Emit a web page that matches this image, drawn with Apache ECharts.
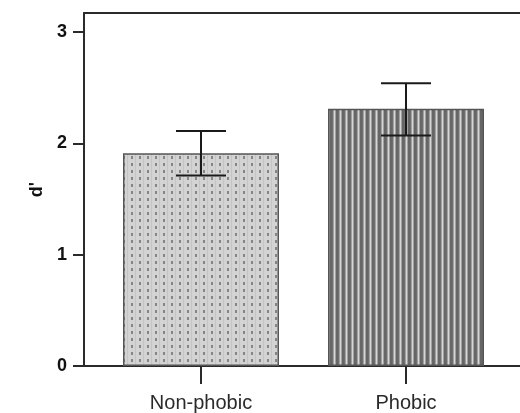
<!DOCTYPE html>
<html>
<head>
<meta charset="utf-8">
<script src="https://cdn.jsdelivr.net/npm/echarts@6/dist/echarts.min.js"></script>
<style>
html,body{margin:0;padding:0;background:#fff;}
#c{width:520px;height:413px;}
</style>
</head>
<body>
<div id="c"></div>
<script>
var categories = ['Non-phobic', 'Phobic'];
var means = [1.91, 2.31];
var errLow = [1.71, 2.07];
var errHigh = [2.11, 2.54];
var yTicks = [0, 1, 2, 3];
var yMax = 3.17;

function dotPattern() {
  var c = document.createElement('canvas');
  c.width = 8; c.height = 7;
  var g = c.getContext('2d');
  g.fillStyle = '#d3d3d3'; g.fillRect(0, 0, 8, 7);
  g.fillStyle = '#c4c4c4'; g.fillRect(7, 0, 1, 7);
  g.fillStyle = '#858585'; g.fillRect(3, 2, 2, 3);
  return c;
}
function stripePattern() {
  var c = document.createElement('canvas');
  c.width = 6; c.height = 6;
  var g = c.getContext('2d');
  var cols = ['#666666', '#666666', '#6e6e6e', '#a0a0a0', '#d6d6d6', '#a0a0a0'];
  for (var i = 0; i < 6; i++) { g.fillStyle = cols[i]; g.fillRect(i, 0, 1, 6); }
  return c;
}
var fills = [
  { image: dotPattern(), repeat: 'repeat' },
  { image: stripePattern(), repeat: 'repeat' }
];

var chart = echarts.init(document.getElementById('c'));
var axisColor = '#2a2a2a';
var font = 'Liberation Sans, Arial, sans-serif';
chart.setOption({
  animation: false,
  backgroundColor: '#fff',
  grid: [
    { left: 84, right: 0, top: 13, bottom: 47 },
    { left: 98.5, right: 11.5, top: 13, bottom: 47 }
  ],
  xAxis: [
    { type: 'value', gridIndex: 0, position: 'bottom', min: 0, max: 1,
      axisLine: { show: true, lineStyle: { color: axisColor, width: 2 } },
      axisTick: { show: false }, axisLabel: { show: false }, splitLine: { show: false } },
    { type: 'value', gridIndex: 0, position: 'top', min: 0, max: 1,
      axisLine: { show: true, lineStyle: { color: axisColor, width: 2 } },
      axisTick: { show: false }, axisLabel: { show: false }, splitLine: { show: false } },
    {
      type: 'category', gridIndex: 1, data: categories,
      axisLine: { show: false },
      axisTick: { show: true, alignWithLabel: true, length: 18, lineStyle: { color: axisColor, width: 2 } },
      axisLabel: { margin: 27, color: '#2a2a2a', fontSize: 20, fontFamily: font }
    }
  ],
  yAxis: [
    {
      type: 'value', gridIndex: 0, min: 0, max: yMax,
      name: "d'", nameLocation: 'middle', nameGap: 30,
      nameTextStyle: { fontSize: 18, fontWeight: 'bold', color: '#111', fontFamily: font },
      axisLine: { show: true, lineStyle: { color: axisColor, width: 2 } },
      axisTick: { show: true, length: 11, customValues: yTicks, lineStyle: { color: axisColor, width: 2 } },
      axisLabel: { customValues: yTicks, margin: 17, color: '#111', fontSize: 18, fontWeight: 'bold', fontFamily: font },
      splitLine: { show: false }
    },
    { type: 'value', gridIndex: 1, min: 0, max: yMax, show: false, splitLine: { show: false } }
  ],
  series: [
    {
      type: 'bar', xAxisIndex: 2, yAxisIndex: 1, barWidth: 156,
      data: means.map(function (v, i) {
        return { value: v, itemStyle: { color: fills[i], borderColor: '#555', borderWidth: 1.5 } };
      })
    },
    {
      type: 'custom', xAxisIndex: 2, yAxisIndex: 1,
      data: categories.map(function (c, i) { return [i, errLow[i], errHigh[i]]; }),
      renderItem: function (params, api) {
        var lo = api.coord([api.value(0), api.value(1)]);
        var hi = api.coord([api.value(0), api.value(2)]);
        var hw = 25;
        var st = { stroke: '#1a1a1a', lineWidth: 2 };
        return {
          type: 'group',
          children: [
            { type: 'line', shape: { x1: hi[0], y1: hi[1], x2: lo[0], y2: lo[1] }, style: st },
            { type: 'line', shape: { x1: hi[0] - hw, y1: hi[1], x2: hi[0] + hw, y2: hi[1] }, style: st },
            { type: 'line', shape: { x1: lo[0] - hw, y1: lo[1], x2: lo[0] + hw, y2: lo[1] }, style: st }
          ]
        };
      },
      z: 5
    }
  ]
});
</script>
</body>
</html>
